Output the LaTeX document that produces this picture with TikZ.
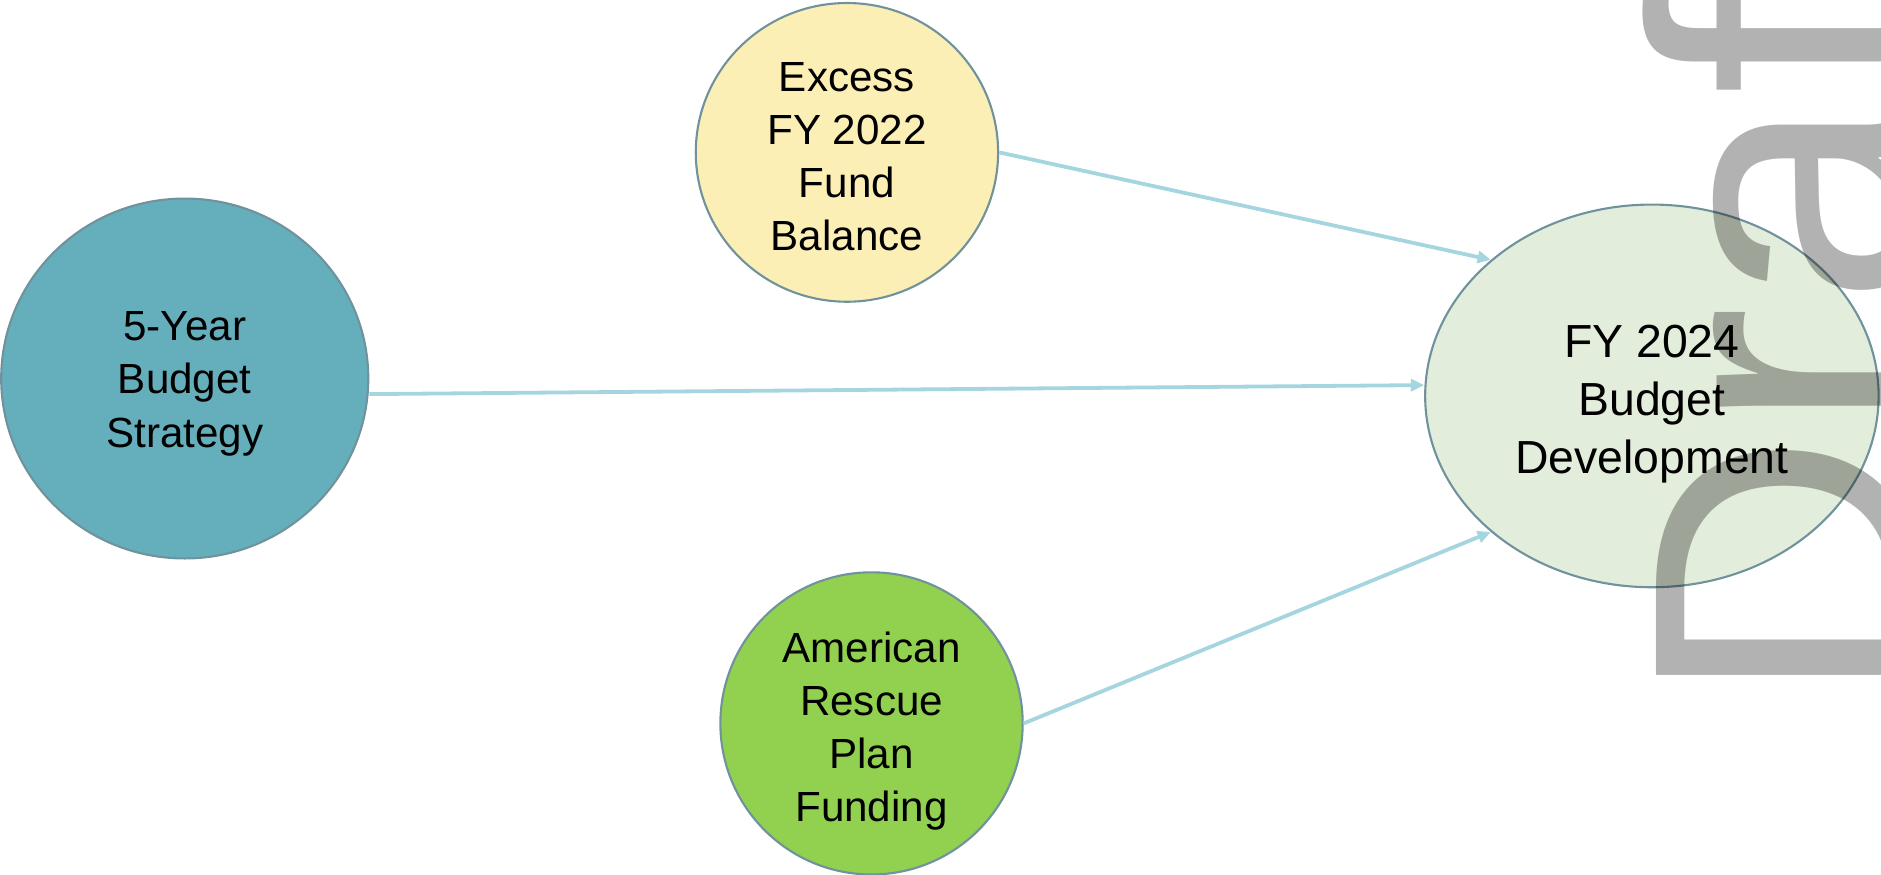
\documentclass[tikz,border=0pt]{standalone}
\usepackage{fontspec}
\setmainfont{Liberation Sans}
\usetikzlibrary{arrows.meta, shapes.geometric}

\definecolor{strategyteal}{RGB}{101,175,189}
\definecolor{excessyellow}{RGB}{252,239,182}
\definecolor{rescuegreen}{RGB}{146,208,80}
\definecolor{developgreen}{RGB}{227,237,219}
\definecolor{bubbleedge}{RGB}{112,146,156}
\definecolor{flowblue}{RGB}{165,213,223}

% extra height on a first line, sits the text a little lower in its bubble
\newcommand{\headroom}[1]{\rule{0pt}{#1}}

\begin{document}
\begin{tikzpicture}[
        bubble/.style = {draw = bubbleedge, line width = 0.5pt, ellipse, inner sep = 0pt, align = center, font = \fontsize{10}{12.6}\selectfont},
        flow/.style = {draw = flowblue, line width = 0.9pt, -{Triangle[length = 1.1mm, width = 1.0mm]}}
    ]
    \useasboundingbox (0, 0) rectangle (15.68, -7.29);
    \clip (0, 0) rectangle (15.68, -7.29);

    \draw
        (1.54, -3.155) node (strategy) [bubble, fill = strategyteal, minimum width = 3.06cm, minimum height = 3.0cm] {\headroom{9.4pt}5-Year\\Budget\\Strategy}
        (7.06, -1.27) node (excess) [bubble, fill = excessyellow, minimum width = 2.52cm, minimum height = 2.49cm] {\headroom{9pt}Excess\\FY 2022\\Fund\\Balance}
        (7.265, -6.03) node (rescue) [bubble, fill = rescuegreen, minimum width = 2.52cm, minimum height = 2.5cm] {\headroom{10.8pt}American\\Rescue\\Plan\\Funding}
        (13.77, -3.30) node (development) [bubble, fill = developgreen, minimum width = 3.78cm, minimum height = 3.19cm, font = \fontsize{11}{13.7}\selectfont] {\headroom{11.5pt}FY 2024\\Budget\\Development}

        ([yshift = -1.3mm] strategy.east) edge [flow] ([yshift = 0.9mm] development.west)
        (excess.east) edge [flow] (development.north west)
        (rescue.east) edge [flow] (development.south west)
    ;

    % stamp across the right edge
    \begin{scope}[blend mode = multiply]
        \node (stamp) [rotate = 90, anchor = base west, inner sep = 0pt, text = black!30, font = \fontsize{90}{90}\selectfont] at (15.98, -5.90) {Draft};
    \end{scope}
\end{tikzpicture}
\end{document}
